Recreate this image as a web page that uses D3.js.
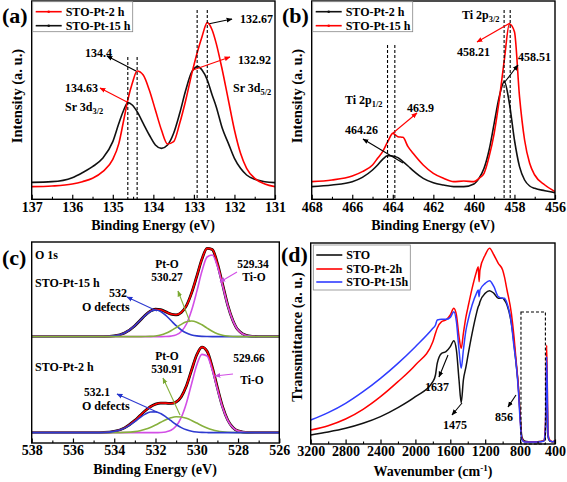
<!DOCTYPE html>
<html><head><meta charset="utf-8">
<script src="https://cdn.jsdelivr.net/npm/d3@7"></script>
<style>body{margin:0;background:#fff}</style>
</head><body>
<svg id="fig" width="567" height="482"></svg>
<script>
// ---------------- DATA ----------------
// (a) Sr 3d
const aEnergy = [137,136.5,136,135.75,135.5,135.25,135,134.85,134.73,134.63,134.52,134.4,134.25,134.1,133.95,133.8,133.65,133.5,133.35,133.2,133.05,132.9,132.8,132.67,132.55,132.45,132.3,132.15,132,131.85,131.7,131.5,131.25,131];
const aPt2h  = [40,42,48,55,65,85,122,170,240,300,350,387,375,330,270,210,168,175,230,300,380,450,490,532,510,470,390,300,210,140,95,65,48,40];
const aPt15h = [53,55,67,82,100,125,175,230,270,292,285,265,230,195,165,155,165,200,260,330,385,400,390,360,315,280,215,170,125,95,75,62,55,52];
const aTicks = [137,136,135,134,133,132,131];
const aMinor = [136.5,135.5,134.5,133.5,132.5,131.5];
const aPeaks = [134.63,134.4,132.92,132.67];

// (b) Ti 2p
const bEnergy = [468,467,466,465.5,465,464.75,464.5,464.25,464,463.75,463.5,463.25,463,462.5,462,461.5,461,460.5,460,459.75,459.5,459.25,459,458.75,458.5,458.25,458,457.75,457.5,457.25,457,456.5,456];
const bPt2h  = [40,45,55,68,90,105,122,133,132,127,115,102,88,65,52,45,40,40,48,65,95,150,230,310,355,290,180,100,60,42,35,28,22];
const bPt15h = [55,60,72,85,105,125,145,175,200,190,188,160,140,105,80,65,55,57,55,65,80,130,200,300,420,528,505,310,180,110,75,45,25];
const bTicks = [468,466,464,462,460,458,456];
const bMinor = [467,465,463,461,459,457];
const bPeaks = [464.26,463.9,458.51,458.21];

// (c) O 1s fits
const cEnergy = [538,537,536,535.5,535,534.5,534,533.5,533,532.75,532.5,532.25,532,531.75,531.5,531.25,531,530.75,530.5,530.25,530,529.75,529.5,529.25,529,528.75,528.5,528.25,528,527.5,527,526.5,526];
const cBase15h = 310, cBase2h = 22;
const c15Env  = [0,0,0,0,0,0.3,2.3,10.8,32.9,48.6,64.3,76.6,82.2,80.8,74.4,67.7,65.6,72.7,93.3,131.3,180.9,232.6,265,261.3,220,157.5,94.9,48.7,20.2,2.3,0,0,0];
const c15TiO  = [0,0,0,0,0,0,0,0,0,0,0,0,0,0.1,0.4,1.6,5.4,15.7,38,79,135,196,239,245,211,153,93,48,20,2.3,0,0,0];
const c15PtO  = [0,0,0,0,0,0,0,0,0,0.1,0.3,0.9,2.2,5,10,17.6,27.3,37,44.5,47,43.6,35.7,25.7,16.3,9,4.5,1.9,0.7,0.2,0,0,0,0];
const c15Odef = [0,0,0,0,0,0.3,2.3,10.8,32.9,48.5,64,75.7,80,75.7,64,48.5,32.9,20,10.8,5.3,2.3,0.9,0.3,0,0,0,0,0,0,0,0,0,0];
const c2Env   = [0,0,0,0,0.1,0.7,3.9,14.4,36.7,51.2,65.7,77.7,85.5,88.8,88.5,87.6,92,108.1,140.8,188.1,233.8,256.7,244.4,196.8,135,78.1,38,15.6,5.4,0.4,0,0,0];
const c2TiO   = [0,0,0,0,0,0,0,0,0,0,0,0,0,0.5,2.2,7.1,19.7,45.7,89,147,203,235,230,188,130,75.4,36.7,15,5.2,0.4,0,0,0];
const c2PtO   = [0,0,0,0,0,0,0.1,0.8,3.2,5.9,10.1,15.8,23,31,38.7,44.7,47.8,47.2,43.3,36.7,28.8,20.9,14.1,8.8,5,2.7,1.3,0.6,0.2,0,0,0,0];
const c2Odef  = [0,0,0,0,0.1,0.7,3.8,13.6,33.5,45.3,55.6,61.9,62.5,57.3,47.6,35.8,24.5,15.2,8.5,4.4,2,0.8,0.3,0,0,0,0,0,0,0,0,0,0];
const cTicks = [538,536,534,532,530,528,526];
const cMinor = [537,535,533,531,529,527];

// (d) FTIR
const dWave = [3200,3000,2800,2600,2400,2200,2000,1800,1770,1750,1700,1650,1600,1560,1530,1500,1475,1450,1420,1400,1350,1300,1280,1270,1260,1200,1150,1100,1050,1000,980,950,900,870,850,820,800,780,750,700,600,530,510,495,480,460,430,400];
const dSTO    = [27,36,47,62,82,109,142,187,207,242,272,277,292,310,282,192,124,192,232,262,332,392,412,417,427,452,460,452,437,437,432,417,362,302,252,172,92,22,9,7,7,9,32,182,22,9,7,7];
const dPt2h   = [42,55,75,104,142,187,237,307,332,347,367,372,387,407,387,322,287,332,382,407,467,517,532,487,522,567,587,567,542,522,502,462,392,322,262,172,82,17,7,7,7,9,52,297,32,12,7,10];
const dPt15h  = [72,94,122,157,197,242,292,347,357,372,374,374,380,397,367,282,227,282,342,367,417,452,462,442,462,482,490,472,442,437,437,422,362,292,252,162,72,14,6,6,6,8,42,262,27,10,7,9];
const dTicks = [3200,2800,2400,2000,1600,1200,800,400];
const dMinor = [3000,2600,2200,1800,1400,1000,600];
const dBoxRange = [790, 510];

// ---------------- DRAWING ----------------
const FONT = '"Liberation Serif","Times New Roman",serif';
const RED = "#ff0000", BLACK = "#111", BLUE = "#2f3cff";
const svg = d3.select("#fig");
const defs = svg.append("defs");
function marker(id, color){
  defs.append("marker").attr("id",id).attr("viewBox","0 0 10 10").attr("refX",9).attr("refY",5)
    .attr("markerWidth",6).attr("markerHeight",6).attr("markerUnits","userSpaceOnUse").attr("orient","auto")
    .append("path").attr("d","M0,1L10,5L0,9z").attr("fill",color);
}
marker("mBlack","#000"); marker("mRed",RED); marker("mBlue","#2233cc"); marker("mGreen","#7aa832"); marker("mMag","#c84fe0");

function txt(x,y,s,size,anchor,fill){
  return svg.append("text").attr("x",x).attr("y",y).text(s).attr("font-family",FONT).attr("font-weight","bold")
    .attr("font-size",size||12).attr("text-anchor",anchor||"start").attr("fill",fill||"#000");
}
function subTxt(x,y,main,sub,size){
  const t = svg.append("text").attr("x",x).attr("y",y).attr("font-family",FONT).attr("font-weight","bold").attr("font-size",size||12);
  t.append("tspan").text(main);
  t.append("tspan").text(sub).attr("font-size",(size||12)*0.7).attr("dy",3);
  return t;
}
function arrow(x1,y1,x2,y2,color,m){
  svg.append("line").attr("x1",x1).attr("y1",y1).attr("x2",x2).attr("y2",y2).attr("stroke",color).attr("stroke-width",1.1).attr("marker-end",`url(#${m})`);
}
function frame(x0,y0,x1,y1,id){
  defs.append("clipPath").attr("id",id).append("rect").attr("x",x0).attr("y",y0).attr("width",x1-x0).attr("height",y1-y0);
  return {x0,y0,x1,y1,id};
}
function drawFrame(f){
  svg.append("rect").attr("x",f.x0).attr("y",f.y0).attr("width",f.x1-f.x0).attr("height",f.y1-f.y0)
    .attr("fill","none").attr("stroke","#000").attr("stroke-width",1.4);
}
function bottomAxis(x, y0, major, minor, pad){
  const g1 = svg.append("g").attr("transform",`translate(0,${y0})`)
    .call(d3.axisBottom(x).tickValues(minor).tickSize(-2.5).tickFormat(""));
  g1.select(".domain").remove();
  const g = svg.append("g").attr("transform",`translate(0,${y0})`)
    .call(d3.axisBottom(x).tickValues(major).tickSize(-4.5).tickPadding(pad).tickFormat(d3.format("d")));
  g.select(".domain").remove();
  g.selectAll("line").attr("stroke","#000").attr("stroke-width",1.2);
  g1.selectAll("line").attr("stroke","#000").attr("stroke-width",1.1);
  g.selectAll("text").attr("font-size",14).attr("font-family",FONT).attr("font-weight","bold").attr("fill","#000");
}
function series(f, xs, ys, X, Y, color, w, offset){
  const line = d3.line().x((d,i)=>xs(X[i])).y(d=>ys(d + (offset||0))).curve(d3.curveMonotoneX);
  svg.append("path").attr("d",line(Y)).attr("fill","none").attr("stroke",color).attr("stroke-width",w||1.6)
    .attr("clip-path",`url(#${f.id})`).attr("stroke-linejoin","round");
}
function vdash(xs, v, yTop, yBot){
  svg.append("line").attr("x1",xs(v)).attr("x2",xs(v)).attr("y1",yTop).attr("y2",yBot)
    .attr("stroke","#000").attr("stroke-width",1.1).attr("stroke-dasharray","3,2");
}
function yTitle(x,y,s){
  svg.append("text").attr("transform",`translate(${x},${y}) rotate(-90)`).attr("text-anchor","middle")
    .attr("font-family",FONT).attr("font-weight","bold").attr("font-size",14.5).text(s);
}
function legend(x,y,w,h,items){
  svg.append("rect").attr("x",x).attr("y",y).attr("width",w).attr("height",h).attr("fill","#fff").attr("stroke","#888").attr("stroke-width",0.8);
  items.forEach((it,i)=>{
    const yy = y + it.dy;
    svg.append("line").attr("x1",x+3).attr("x2",x+29).attr("y1",yy).attr("y2",yy).attr("stroke",it.c).attr("stroke-width",1.6);
    if(it.dot) svg.append("circle").attr("cx",x+16).attr("cy",yy).attr("r",1.3).attr("fill",it.c);
    txt(x+33, yy+4, it.t, 12);
  });
}

// ---- Panel (a)
const fa = frame(31.7,1,275,199.3,"ca");
const xa = d3.scaleLinear([137,131],[31.7,275]);
const ya = d3.scaleLinear([0,600],[200,0]);
series(fa, xa, ya, aEnergy, aPt15h, BLACK);
series(fa, xa, ya, aEnergy, aPt2h, RED);
vdash(xa, aPeaks[0], 57, 199.3); vdash(xa, aPeaks[1], 57, 199.3);
vdash(xa, aPeaks[2], 10, 199.3); vdash(xa, aPeaks[3], 10, 199.3);
drawFrame(fa);
bottomAxis(xa, 199.3, aTicks, aMinor, 2.5);
txt(153, 229.5, "Binding Energy (eV)", 14, "middle");
yTitle(22, 96, "Intensity (a. u.)");
legend(32.7, 1.7, 100, 30, [{t:"STO-Pt-2 h", c:RED, dy:10, dot:true},{t:"STO-Pt-15 h", c:BLACK, dy:24, dot:true}]);
arrow(xa(132.67)+2, ya(532)+1, 232, 19, "#000", "mBlack");
txt(240, 23, "132.67");
arrow(193, 70, 230, 57, RED, "mRed");
txt(238, 64, "132.92");
arrow(136, 71, 107, 56, "#000", "mBlack");
txt(85, 57, "134.4");
arrow(127, 102, 100, 88, RED, "mRed");
txt(65, 92, "134.63");
subTxt(65, 111, "Sr 3d", "3/2");
subTxt(233, 92, "Sr 3d", "5/2");
txt(2, 23, "(a)", 22);

// ---- Panel (b)
const fb = frame(311.7,1,555,199.3,"cb");
const xb = d3.scaleLinear([468,456],[311.7,555]);
const yb = d3.scaleLinear([0,600],[200,0]);
series(fb, xb, yb, bEnergy, bPt2h, BLACK);
series(fb, xb, yb, bEnergy, bPt15h, RED);
vdash(xb, bPeaks[0], 45, 199.3); vdash(xb, bPeaks[1], 45, 199.3);
vdash(xb, bPeaks[2], 10, 199.3); vdash(xb, bPeaks[3], 10, 199.3);
drawFrame(fb);
bottomAxis(xb, 199.3, bTicks, bMinor, 2.5);
txt(433, 229.5, "Binding Energy (eV)", 14, "middle");
yTitle(302, 96, "Intensity (a. u.)");
legend(312.7, 1.7, 100, 30, [{t:"STO-Pt-2 h", c:BLACK, dy:10, dot:true},{t:"STO-Pt-15 h", c:RED, dy:24, dot:true}]);
subTxt(462, 19, "Ti 2p", "3/2");
arrow(510, 23, 477, 42, RED, "mRed");
txt(457, 56, "458.21");
arrow(504, 83, 518, 65, "#000", "mBlack");
txt(518, 61, "458.51");
subTxt(345, 104, "Ti 2p", "1/2");
arrow(393, 133, 417, 113, RED, "mRed");
txt(407, 112, "463.9");
arrow(403, 163, 363, 139, "#000", "mBlack");
txt(345, 134, "464.26");
txt(282, 23, "(b)", 22);

// ---- Panel (c)
const fc = frame(31.7,242,279.3,443,"cc");
const xc = d3.scaleLinear([538,526],[31.7,279.3]);
const yc = d3.scaleLinear([0,600],[440,240]);
const MAG = "#d24fe6", GRN = "#86b03c", CBL = "#2e3ad0";
// upper: STO-Pt-15 h
series(fc, xc, yc, cEnergy, c15Env, "#000", 2.8, cBase15h);
series(fc, xc, yc, cEnergy, c15Env, RED, 1.6, cBase15h);
series(fc, xc, yc, cEnergy, c15TiO, MAG, 1.6, cBase15h);
series(fc, xc, yc, cEnergy, c15Odef, CBL, 1.6, cBase15h);
series(fc, xc, yc, cEnergy, c15PtO, GRN, 1.6, cBase15h);
// lower: STO-Pt-2 h
series(fc, xc, yc, cEnergy, c2Env, "#000", 2.8, cBase2h);
series(fc, xc, yc, cEnergy, c2Env, RED, 1.6, cBase2h);
series(fc, xc, yc, cEnergy, c2TiO, MAG, 1.6, cBase2h);
series(fc, xc, yc, cEnergy, c2PtO, GRN, 1.6, cBase2h);
series(fc, xc, yc, cEnergy, c2Odef, CBL, 1.6, cBase2h);
drawFrame(fc);
bottomAxis(xc, 443, cTicks, cMinor, 2);
txt(155, 474, "Binding Energy (eV)", 14, "middle");
txt(35, 259, "O 1s");
txt(35, 287, "STO-Pt-15 h");
arrow(157, 311, 127, 297, CBL, "mBlue");
txt(109, 297, "532");
txt(82, 311, "O defects");
arrow(190, 322, 178, 291, GRN, "mGreen");
txt(167, 267.5, "Pt-O", 11.5, "middle");
txt(167, 281, "530.27", 11.5, "middle");
arrow(237, 272, 220, 282, MAG, "mMag");
txt(253, 267.5, "529.34", 11.5, "middle");
txt(254, 281, "Ti-O", 11.5, "middle");
txt(35, 371, "STO-Pt-2 h");
arrow(180, 415, 163, 378, GRN, "mGreen");
txt(167, 359.5, "Pt-O", 11.5, "middle");
txt(167, 373, "530.91", 11.5, "middle");
arrow(233, 374, 215, 376, MAG, "mMag");
txt(249, 362, "529.66", 11.5, "middle");
txt(252, 384, "Ti-O", 11.5, "middle");
arrow(157, 412, 117, 394, CBL, "mBlue");
txt(97, 395.5, "532.1", 11.5, "middle");
txt(82, 410, "O defects");
txt(2, 265, "(c)", 22);

// ---- Panel (d)
const fd = frame(310.7,243,555,444,"cd");
const xd = d3.scaleLinear([3200,400],[310.7,555]);
const yd = d3.scaleLinear([0,612],[444,240]);
series(fd, xd, yd, dWave, dSTO, BLACK, 1.5);
series(fd, xd, yd, dWave, dPt2h, RED, 1.5);
series(fd, xd, yd, dWave, dPt15h, BLUE, 1.5);
svg.append("rect").attr("x",xd(dBoxRange[0])).attr("y",312).attr("width",xd(dBoxRange[1])-xd(dBoxRange[0])).attr("height",444-312)
  .attr("fill","none").attr("stroke","#000").attr("stroke-width",1.1).attr("stroke-dasharray","3,2");
drawFrame(fd);
bottomAxis(xd, 444, dTicks, dMinor, 2.5);
svg.append("text").attr("x",433).attr("y",475.5).attr("text-anchor","middle").attr("font-family",FONT).attr("font-weight","bold").attr("font-size",14)
  .call(t=>{t.append("tspan").text("Wavenumber (cm"); t.append("tspan").text("-1").attr("font-size",9).attr("dy",-5); t.append("tspan").text(")").attr("dy",5);});
yTitle(302, 337, "Transmittance (a. u.)");
legend(313.3, 245, 97, 45, [{t:"STO", c:BLACK, dy:10},{t:"STO-Pt-2h", c:RED, dy:24},{t:"STO-Pt-15h", c:BLUE, dy:37}]);
arrow(448, 355, 439, 377, "#000", "mBlack");
txt(425, 391, "1637");
arrow(462, 403, 452, 415, "#000", "mBlack");
txt(443, 429, "1475");
arrow(516, 395, 508, 407, "#000", "mBlack");
txt(495, 421, "856");
txt(281, 262, "(d)", 22);
</script>
</body></html>
